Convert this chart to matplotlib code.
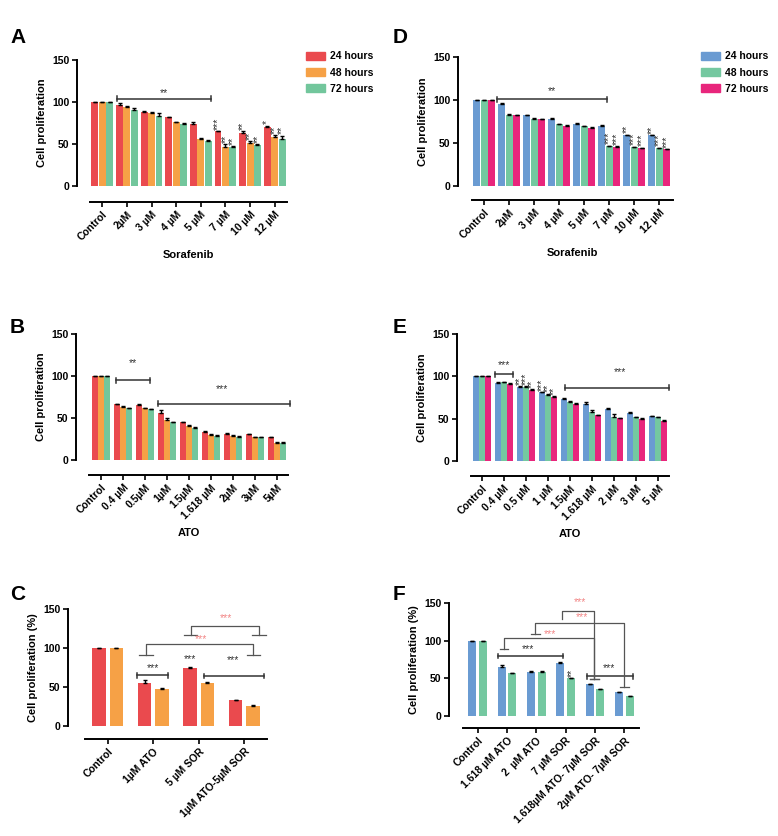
import numpy as np
import matplotlib
matplotlib.use("Agg")
import matplotlib.pyplot as plt
from matplotlib.patches import Patch

plt.rcParams['font.family'] = ['Liberation Sans', 'DejaVu Sans']
plt.rcParams['font.weight'] = 'bold'
plt.rcParams['axes.labelweight'] = 'bold'

# ---- data ----
sora_labels = ['Control', '2µM', '3 µM', '4 µM', '5 µM', '7 µM', '10 µM', '12 µM']
A_24 = [100, 97, 88, 82, 74, 65, 63.5, 70.5]
A_48 = [100, 93.5, 87, 76, 55.5, 47, 51.5, 58.5]
A_72 = [100, 90.5, 83, 74, 53, 46.5, 49, 56]
A_err24 = [0, 1.5, 1, 0.5, 2, 0.5, 1.5, 1.5]
A_err48 = [0, 1.5, 1.5, 0.5, 1.5, 3, 1.5, 2]
A_err72 = [0, 2, 4, 0.5, 2, 1, 0.5, 4]

D_24 = [100, 95.5, 82, 78, 72.5, 70, 59.3, 59]
D_48 = [100, 83, 78, 72, 69.4, 46.5, 45.3, 44]
D_72 = [100, 82, 77.5, 70, 68, 45.7, 44, 42.6]
D_err24 = [0, 0.7, 0.7, 0.7, 0.5, 0.5, 0.5, 0.5]
D_err48 = [0, 0.7, 0.5, 0.5, 0.5, 0.5, 0.5, 0.7]
D_err72 = [0, 0.7, 0.5, 0.5, 0.5, 0.5, 0.5, 0.5]

atoB_labels = ['Control', '0.4 µM', '0.5µM', '1µM', '1.5µM', '1.618 µM', '2µM', '3µM', '5µM']
B_24 = [100, 66.5, 65.5, 55.5, 45.2, 33.7, 31.3, 30.6, 27]
B_48 = [100, 63, 61.5, 48, 41, 29.4, 28.6, 27, 20.6]
B_72 = [100, 62, 60.3, 45, 38.5, 28.6, 27.4, 27, 20.6]
B_err24 = [0, 0.7, 0.7, 3.5, 0.5, 0.7, 0.7, 0.7, 0.7]
B_err48 = [0, 0.7, 0.7, 1.5, 0.5, 1.5, 0.7, 0.5, 0.7]
B_err72 = [0, 0.5, 0.7, 0.5, 0.5, 1.5, 0.7, 0.7, 1]

atoE_labels = ['Control', '0.4 µM', '0.5 µM', '1 µM', '1.5µM', '1.618 µM', '2 µM', '3 µM', '5 µM']
E_24 = [100, 92.6, 87.8, 81, 73.2, 67.3, 62, 57, 53]
E_48 = [100, 93, 87.8, 78, 69.6, 57.4, 52, 51.4, 51.4]
E_72 = [100, 91.4, 83.9, 76, 67.7, 53.8, 50.6, 49.5, 47]
E_err24 = [0, 0.7, 0.7, 0.7, 0.7, 2.5, 1, 0.7, 0.5]
E_err48 = [0, 0.7, 0.7, 1.5, 0.7, 2.5, 3.5, 0.7, 1]
E_err72 = [0, 1, 0.7, 0.7, 0.5, 0.5, 0.7, 0.7, 2]

C_labels = ['Control', '1µM ATO', '5 µM SOR', '1µM ATO-5µM SOR']
C_24 = [100, 55, 75, 33]
C_48 = [100, 47.5, 55, 26]
C_err24 = [0, 3.5, 0.7, 0.5]
C_err48 = [0, 1.5, 1.5, 0.5]

F_labels = ['Control', '1.618 µM ATO', '2  µM ATO', '7 µM SOR', '1.618µM ATO- 7µM SOR', '2µM ATO- 7µM SOR']
F_24 = [100, 65, 58.8, 70.4, 42, 31.4]
F_48 = [100, 56.5, 58.8, 50.4, 35.4, 26.5]
F_err24 = [0, 3, 0.5, 0.7, 0.7, 0.7]
F_err48 = [0, 1.2, 0.5, 0.7, 0.5, 0.5]

hours = ['24 hours', '48 hours', '72 hours']
red, orange, green = '#ea4a4e', '#f6a146', '#72c69c'
blue, green2, pink = '#6a9bd2', '#74c8a0', '#e8267c'
star_red = '#f28686'
gray = '#555555'

W, H = 778, 836
fig = plt.figure(figsize=(W / 100, H / 100), dpi=100)


def make_ax(x0, x1, ytop, ybot, xlim, left_out, bot_out):
    ax = fig.add_axes([x0 / W, 1 - ybot / H, (x1 - x0) / W, (ybot - ytop) / H])
    ax.set_xlim(*xlim)
    ax.set_ylim(0, 150)
    ax.set_yticks([0, 50, 100, 150])
    for s in ['top', 'right']:
        ax.spines[s].set_visible(False)
    ax.spines['left'].set_position(('outward', left_out * 0.72))
    ax.spines['bottom'].set_position(('outward', bot_out * 0.72))
    for s in ['left', 'bottom']:
        ax.spines[s].set_linewidth(1.4)
    ax.tick_params(width=1.2, length=3.5, labelsize=7.5, pad=2)
    return ax


def bars(ax, series, errs, colors, offsets, width):
    for vals, err, c, off in zip(series, errs, colors, offsets):
        x = np.arange(len(vals)) + off
        ax.bar(x, vals, width, color=c, edgecolor='none')
        ax.errorbar(x, vals, yerr=[np.zeros(len(err)), err], fmt='none',
                    ecolor='black', elinewidth=1, capsize=1.4, capthick=1)


def set_labels(ax, labels, xlabel=None):
    ax.set_xticks(np.arange(len(labels)))
    ax.set_xticklabels(labels, rotation=45, ha='right', rotation_mode='anchor')
    if xlabel:
        ax.set_xlabel(xlabel, fontsize=8, labelpad=5)


def bracket(ax, x1, x2, y, text, tx, ty, d=3, color='#333333', tcolor='#333333'):
    ax.plot([x1, x2], [y, y], color=color, lw=1.1, clip_on=False)
    ax.plot([x1, x1], [y - d, y + d], color=color, lw=1.1, clip_on=False)
    ax.plot([x2, x2], [y - d, y + d], color=color, lw=1.1, clip_on=False)
    ax.text(tx, ty, text, ha='center', va='center', fontsize=7.5, color=tcolor,
            fontweight='normal', clip_on=False)


def group_line(ax, x1, x2, y, y1, y2, cw=0.15, caps=(True, True)):
    ax.plot([x1, x1, x2, x2], [y1, y, y, y2], color=gray, lw=0.9, clip_on=False)
    if caps[0]:
        ax.plot([x1 - cw, x1 + cw], [y1, y1], color=gray, lw=0.9, clip_on=False)
    if caps[1]:
        ax.plot([x2 - cw, x2 + cw], [y2, y2], color=gray, lw=0.9, clip_on=False)


def vstar(ax, x, y, text):
    ax.text(x, y, text, rotation=90, ha='center', va='bottom', fontsize=7.5,
            color='#333333', fontweight='normal')


def panel_letter(x, y, s):
    fig.text(x / W, 1 - y / H, s, fontsize=15, fontweight='bold', ha='left', va='top')


# ---- A ----
axA = make_ax(90, 287, 60, 186, (-0.5, 7.5), 13, 16)
bars(axA, [A_24, A_48, A_72], [A_err24, A_err48, A_err72], [red, orange, green], [-0.3, 0, 0.3], 0.28)
set_labels(axA, sora_labels, 'Sorafenib')
axA.set_ylabel('Cell proliferation', fontsize=8)
bracket(axA, 0.58, 4.4, 104, '**', 2.5, 111)
for i, t in zip([5, 6, 7], [('***', '**', '**'), ('**', '**', '**'), ('*', '**', '**')]):
    for k, off in enumerate([-0.3, 0, 0.3]):
        vals = [A_24, A_48, A_72][k]
        errs = [A_err24, A_err48, A_err72][k]
        vstar(axA, i + off, vals[i] + errs[i] + 1.5, t[k])
fig.legend([Patch(color=c) for c in [red, orange, green]], hours,
           loc='upper left', bbox_to_anchor=(297 / W, 1 - 42 / H), frameon=False,
           fontsize=7.5, handlelength=1.8, handleheight=0.8, handletextpad=0.5, labelspacing=0.6)
panel_letter(10, 28, 'A')

# ---- D ----
axD = make_ax(472, 673, 57, 186, (-0.5, 7.55), 14, 14)
bars(axD, [D_24, D_48, D_72], [D_err24, D_err48, D_err72], [blue, green2, pink], [-0.3, 0, 0.3], 0.28)
set_labels(axD, sora_labels, 'Sorafenib')
axD.set_ylabel('Cell proliferation', fontsize=8)
bracket(axD, 0.52, 4.92, 101, '**', 2.7, 110)
for i, t in zip([5, 6, 7], [('', '***', '***'), ('**', '***', '***'), ('**', '***', '***')]):
    for k, off in enumerate([-0.3, 0, 0.3]):
        if t[k]:
            vals = [D_24, D_48, D_72][k]
            errs = [D_err24, D_err48, D_err72][k]
            vstar(axD, i + off, vals[i] + errs[i] + 1.5, t[k])
fig.legend([Patch(color=c) for c in [blue, green2, pink]], hours,
           loc='upper left', bbox_to_anchor=(692 / W, 1 - 42 / H), frameon=False,
           fontsize=7.5, handlelength=1.8, handleheight=0.8, handletextpad=0.5, labelspacing=0.6)
panel_letter(393, 28, 'D')

# ---- B ----
axB = make_ax(89, 288, 334, 460, (-0.55, 8.5), 13, 15)
bars(axB, [B_24, B_48, B_72], [B_err24, B_err48, B_err72], [red, orange, green], [-0.28, 0, 0.28], 0.26)
set_labels(axB, atoB_labels, 'ATO')
axB.set_ylabel('Cell proliferation', fontsize=8)
bracket(axB, 0.68, 2.23, 95, '**', 1.45, 115)
bracket(axB, 2.6, 8.6, 66.7, '***', 5.5, 84)
panel_letter(10, 318, 'B')

# ---- E ----
axE = make_ax(471, 669, 334, 461, (-0.5, 8.5), 14, 15)
bars(axE, [E_24, E_48, E_72], [E_err24, E_err48, E_err72], [blue, green2, pink], [-0.28, 0, 0.28], 0.26)
set_labels(axE, atoE_labels, 'ATO')
axE.set_ylabel('Cell proliferation', fontsize=8)
bracket(axE, 0.6, 1.4, 102.5, '***', 1.0, 113.5)
bracket(axE, 3.77, 8.5, 86.7, '***', 6.27, 105.6)
for i, t in zip([2, 3], [('**', '***', '**'), ('***', '**', '**')]):
    for k, off in enumerate([-0.28, 0, 0.28]):
        vals = [E_24, E_48, E_72][k]
        errs = [E_err24, E_err48, E_err72][k]
        vstar(axE, i + off, vals[i] + errs[i] + 1.5, t[k])
panel_letter(393, 318, 'E')

# ---- C ----
axC = make_ax(85, 267, 609, 726, (-0.5, 3.5), 17, 13)
bars(axC, [C_24, C_48], [C_err24, C_err48], [red, orange], [-0.19, 0.19], 0.3)
set_labels(axC, C_labels)
axC.set_ylabel('Cell proliferation (%)', fontsize=8)
bracket(axC, 0.64, 1.33, 65, '***', 1.0, 74)
axC.text(1.8, 86, '***', ha='center', va='center', fontsize=7.5, color='#333333', fontweight='normal')
bracket(axC, 2.11, 3.44, 64.3, '***', 2.76, 84)
group_line(axC, 0.84, 3.2, 104.6, 91.3, 91.3)
axC.text(2.04, 111.5, '***', ha='center', va='center', fontsize=7.5, color=star_red, fontweight='normal')
group_line(axC, 1.82, 3.33, 128.6, 116.6, 116.6)
axC.text(2.6, 138, '***', ha='center', va='center', fontsize=7.5, color=star_red, fontweight='normal')
panel_letter(10, 585, 'C')

# ---- F ----
axF = make_ax(463, 639, 603, 716, (-0.5, 5.5), 14, 12)
bars(axF, [F_24, F_48], [F_err24, F_err48], [blue, green2], [-0.18, 0.18], 0.28)
set_labels(axF, F_labels)
axF.set_ylabel('Cell proliferation (%)', fontsize=8)
bracket(axF, 0.69, 2.9, 79.6, '***', 1.72, 89)
vstar(axF, 3.2, 52, '**')
bracket(axF, 3.72, 5.28, 52.7, '***', 4.48, 64)
group_line(axF, 0.9, 3.97, 103.5, 89.4, 49.6)
axF.text(2.48, 109, '***', ha='center', va='center', fontsize=7.5, color=star_red, fontweight='normal')
group_line(axF, 1.97, 5.0, 123.5, 109.3, 38.5)
axF.text(3.55, 131.5, '***', ha='center', va='center', fontsize=7.5, color=star_red, fontweight='normal')
group_line(axF, 2.86, 3.97, 140, 129, 49.6, caps=(False, True))
axF.text(3.48, 151, '***', ha='center', va='center', fontsize=7.5, color=star_red, fontweight='normal')
panel_letter(393, 585, 'F')

fig.savefig('out.png', dpi=100)
